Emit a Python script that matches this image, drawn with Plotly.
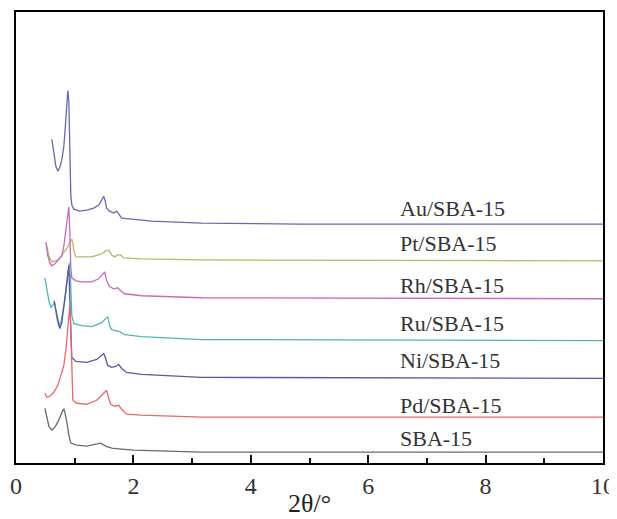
import plotly.graph_objects as go

# 2theta (deg) and intensity (arbitrary units) for each sample
names = ["Au/SBA-15", "Pt/SBA-15", "Rh/SBA-15", "Ru/SBA-15", "Ni/SBA-15", "Pd/SBA-15", "SBA-15"]
colors = ["#6868b4", "#b8b86c", "#c86ab8", "#58b4b4", "#5858a4", "#e86868", "#6a6a6a"]

au_x = [0.611, 0.645, 0.679, 0.713, 0.747, 0.781, 0.815, 0.832, 0.849, 0.866, 0.883, 0.900, 0.908, 0.917,
        0.934, 0.951, 0.985, 1.087, 1.205, 1.324, 1.409, 1.460, 1.494, 1.520, 1.545, 1.596, 1.664, 1.715,
        1.749, 1.800, 1.970, 2.309, 3.158, 4.856, 10]
au_y = [325, 311, 298, 293, 297, 305, 318, 331, 348, 365, 374, 363, 333, 303, 268, 259, 255, 253, 254,
        256, 259, 264, 268, 263, 256, 253, 251, 253, 250, 246, 245, 243, 241, 240, 240]

pt_x = [0.526, 0.560, 0.611, 0.679, 0.747, 0.815, 0.883, 0.917, 0.951, 0.968, 0.985, 1.019, 1.121, 1.290,
        1.460, 1.528, 1.579, 1.630, 1.681, 1.732, 1.783, 1.834, 2.139, 3.158, 10]
pt_y = [218, 208, 202, 203, 206, 211, 217, 222, 225, 221, 213, 207, 207, 207, 210, 213, 214, 209, 207,
        209, 209, 206, 205, 204, 203]

rh_x = [0.509, 0.543, 0.577, 0.611, 0.662, 0.730, 0.781, 0.815, 0.849, 0.883, 0.900, 0.917, 0.934, 0.951,
        1.019, 1.121, 1.290, 1.409, 1.477, 1.511, 1.545, 1.596, 1.664, 1.732, 1.783, 1.851, 2.139, 3.158, 10]
rh_y = [222, 208, 201, 198, 200, 204, 208, 218, 235, 253, 257, 233, 195, 186, 183, 182, 182, 185, 190,
        192, 183, 177, 175, 176, 173, 170, 168, 166, 165]

ru_x = [0.492, 0.526, 0.560, 0.594, 0.628, 0.662, 0.696, 0.730, 0.764, 0.798, 0.832, 0.866, 0.900, 0.917,
        0.934, 0.951, 0.985, 1.121, 1.290, 1.460, 1.528, 1.562, 1.596, 1.630, 1.698, 1.766, 1.851, 2.139,
        3.158, 10]
ru_y = [186, 173, 163, 156, 158, 161, 145, 137, 141, 151, 163, 180, 199, 201, 178, 148, 140, 138, 137,
        141, 145, 147, 138, 134, 133, 132, 129, 127, 124, 123]

ni_x = [0.645, 0.696, 0.747, 0.781, 0.815, 0.849, 0.883, 0.900, 0.917, 0.934, 0.951, 1.019, 1.205, 1.375,
        1.460, 1.494, 1.528, 1.562, 1.630, 1.698, 1.749, 1.800, 1.885, 2.139, 3.158, 10]
ni_y = [163, 148, 135, 141, 158, 178, 195, 198, 163, 123, 106, 102, 101, 104, 108, 110, 105, 98, 96, 97,
        99, 95, 91, 89, 86, 85]

pd_x = [0.492, 0.526, 0.577, 0.645, 0.713, 0.764, 0.815, 0.849, 0.883, 0.900, 0.917, 0.934, 0.951, 0.968,
        1.036, 1.205, 1.375, 1.460, 1.511, 1.545, 1.579, 1.613, 1.681, 1.749, 1.800, 1.885, 2.139, 3.158, 10]
pd_y = [70, 66, 67, 71, 78, 88, 98, 113, 133, 148, 158, 133, 83, 63, 60, 59, 63, 68, 72, 73, 65, 59, 57,
        58, 54, 49, 48, 46, 46]

sba_x = [0.492, 0.526, 0.560, 0.611, 0.662, 0.713, 0.764, 0.798, 0.815, 0.832, 0.866, 0.900, 0.934, 1.036,
         1.205, 1.375, 1.443, 1.528, 1.630, 1.800, 2.003, 3.158, 10]
sba_y = [55, 45, 37, 33, 36, 41, 49, 53, 54, 51, 41, 28, 20, 18, 17, 19, 20, 17, 15, 14, 13, 11, 11]

x_title = "2θ/°"
label_x = 6.5
label_y = [256, 220, 178, 140, 103, 58, 25]

xs = [au_x, pt_x, rh_x, ru_x, ni_x, pd_x, sba_x]
ys = [au_y, pt_y, rh_y, ru_y, ni_y, pd_y, sba_y]

fig = go.Figure()
for n, c, x, y in zip(names, colors, xs, ys):
    fig.add_trace(go.Scatter(x=x, y=y, mode="lines", name=n,
                             line=dict(color=c, width=1.3), showlegend=False))

for n, ly in zip(names, label_y):
    fig.add_annotation(x=label_x, y=ly, text=n, showarrow=False,
                       xanchor="left", yanchor="middle",
                       font=dict(family="Liberation Serif", size=22, color="#333333"))

fig.add_annotation(x=0.5, y=-0.09, xref="paper", yref="paper", text=x_title, showarrow=False,
                   xanchor="center", yanchor="middle",
                   font=dict(family="Liberation Serif", size=26, color="#222222"))

# page body adds an 8px offset; figure sized to fit the 617x519 window
fig.update_layout(
    width=609, height=511,
    margin=dict(l=6, r=14, t=2, b=56),
    plot_bgcolor="white",
    showlegend=False,
    # overlay axis that only carries the inward tick marks
    xaxis2=dict(overlaying="x", anchor="y", side="bottom", range=[0, 10],
                tickmode="linear", tick0=0, dtick=2, ticks="inside", ticklen=8, tickwidth=2,
                tickcolor="#111111", showticklabels=False, showline=False, showgrid=False,
                zeroline=False,
                minor=dict(ticks="inside", ticklen=5, tickcolor="#111111", tickwidth=2, dtick=1)),
)
fig.update_xaxes(selector=dict(anchor="y", overlaying=None))
fig.layout.xaxis.update(range=[0, 10], dtick=2, ticks="inside", ticklen=8, tickwidth=2,
                        tickcolor="#111111",
                        showline=True, linecolor="black", linewidth=2, mirror=True,
                        showgrid=False, zeroline=False,
                        minor=dict(ticks="inside", ticklen=5, tickcolor="#111111", tickwidth=2, dtick=1),
                        tickfont=dict(family="Liberation Serif", size=24, color="#333333"))
fig.layout.yaxis.update(range=[0, 453], ticks="inside", ticklen=1, tickcolor="rgba(0,0,0,0)",
                        showticklabels=False, showgrid=False, zeroline=False,
                        showline=True, linecolor="black", linewidth=2, mirror=True)
fig.write_html("out.html")
